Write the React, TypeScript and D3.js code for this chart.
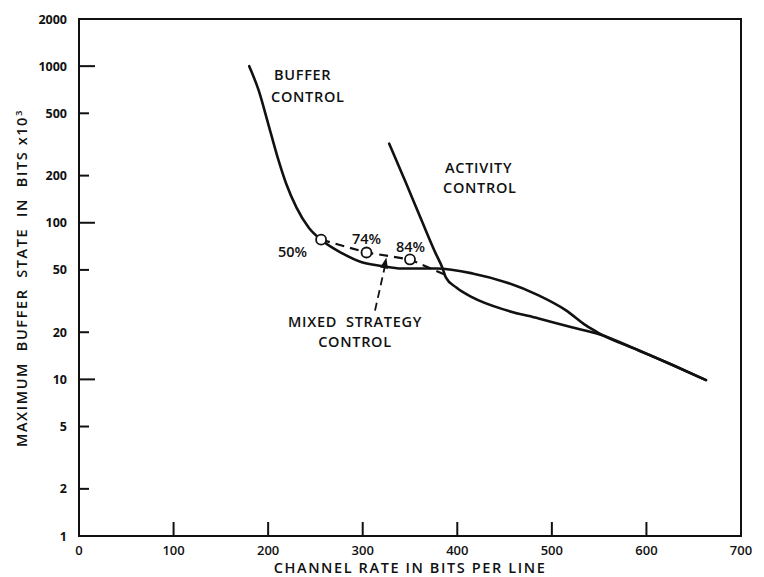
import React, { useEffect, useRef } from 'react';
import * as d3 from 'd3';

// channel rate (bits per line) vs max buffer state (bits x 10^3)
const xTicks = [0, 100, 200, 300, 400, 500, 600, 700];
const yTicks = [1, 2, 5, 10, 20, 50, 100, 200, 500, 1000, 2000];
const yMajor = [10, 100, 1000];

const bufferRate = [180, 190, 200, 211, 219, 230, 243, 257, 278, 299, 320, 341, 378, 416, 452, 486, 515, 536, 550, 592, 627, 663];
const bufferState = [1000, 700, 430, 250, 178, 125, 93, 77, 64, 56, 53, 51, 51, 47.5, 41.6, 34.4, 27.6, 22.1, 19.7, 15.3, 12.4, 9.9];

const activityRate = [328, 346, 363, 377, 384, 388, 399, 416, 452, 486, 521, 550, 592, 627, 663];
const activityState = [320, 178, 101, 64, 52, 44.7, 38.6, 33.4, 27.6, 24.5, 21.5, 19.4, 15.3, 12.4, 9.9];

const mixedRate = [256, 304, 350, 389];
const mixedState = [78, 64.6, 58.3, 46];
const mixedPct = ['50%', '74%', '84%'];

const W = 764;
const H = 577;
const FONT = '"Open Sans", "DejaVu Sans", sans-serif';

const App: React.FC = () => {
    const ref = useRef<SVGSVGElement>(null);

    useEffect(() => {
        const svg = d3.select(ref.current);
        svg.selectAll('*').remove();

        const x = d3.scaleLinear().domain([0, 700]).range([79, 741]);
        const y = d3.scaleLog().domain([1, 2000]).range([536, 19]);

        const g = svg.append('g')
            .attr('font-family', FONT)
            .attr('font-weight', 700)
            .attr('fill', '#111');

        // frame
        g.append('path')
            .attr('d', `M${x(0)},${y(2000)} H${x(700)} V${y(1)} H${x(0)} Z`)
            .attr('fill', 'none')
            .attr('stroke', '#111')
            .attr('stroke-width', 2);

        // y ticks
        g.selectAll('.ytick')
            .data(yTicks.filter(d => d !== 1 && d !== 2000))
            .enter()
            .append('line')
            .attr('x1', x(0))
            .attr('x2', d => x(0) + (yMajor.includes(d) ? 16 : 10))
            .attr('y1', d => y(d))
            .attr('y2', d => y(d))
            .attr('stroke', '#111')
            .attr('stroke-width', 2);

        g.selectAll('.ylab')
            .data(yTicks)
            .enter()
            .append('text')
            .attr('x', 67)
            .attr('y', d => y(d) + 4.5)
            .attr('text-anchor', 'end')
            .attr('font-size', 12.5)
            .text(d => String(d));

        // x ticks
        g.selectAll('.xtick')
            .data(xTicks.filter(d => d !== 0 && d !== 700))
            .enter()
            .append('line')
            .attr('x1', d => x(d))
            .attr('x2', d => x(d))
            .attr('y1', y(1))
            .attr('y2', y(1) - 14)
            .attr('stroke', '#111')
            .attr('stroke-width', 2);

        g.selectAll('.xlab')
            .data(xTicks)
            .enter()
            .append('text')
            .attr('x', d => x(d))
            .attr('y', 555)
            .attr('text-anchor', 'middle')
            .attr('font-size', 13)
            .attr('font-weight', 600)
            .text(d => String(d));

        // axis titles
        g.append('text')
            .attr('x', 410)
            .attr('y', 573)
            .attr('text-anchor', 'middle')
            .attr('font-size', 14.5)
            .attr('font-weight', 600)
            .attr('letter-spacing', 1.6)
            .text('CHANNEL RATE IN BITS PER LINE');

        const yt = g.append('text')
            .attr('transform', 'translate(27,278) rotate(-90)')
            .attr('text-anchor', 'middle')
            .attr('font-size', 14.5)
            .attr('font-weight', 600)
            .attr('letter-spacing', 1.6)
            .style('white-space', 'pre');
        yt.append('tspan').text('MAXIMUM  BUFFER  STATE  IN  BITS x10');
        yt.append('tspan').attr('dy', -5).attr('font-size', 9.5).text('3');

        const line = d3.line<[number, number]>()
            .x(d => x(d[0]))
            .y(d => y(d[1]))
            .curve(d3.curveMonotoneX);

        const curves = [
            bufferRate.map((r, i) => [r, bufferState[i]] as [number, number]),
            activityRate.map((r, i) => [r, activityState[i]] as [number, number]),
        ];

        g.selectAll('.curve')
            .data(curves)
            .enter()
            .append('path')
            .attr('d', d => line(d))
            .attr('fill', 'none')
            .attr('stroke', '#111')
            .attr('stroke-width', 2.6)
            .attr('stroke-linecap', 'round');

        // mixed strategy dashed line
        const mixed = mixedRate.map((r, i) => [r, mixedState[i]] as [number, number]);
        g.append('path')
            .attr('d', d3.line<[number, number]>().x(d => x(d[0])).y(d => y(d[1]))(mixed))
            .attr('fill', 'none')
            .attr('stroke', '#111')
            .attr('stroke-width', 2.2)
            .attr('stroke-dasharray', '9,6');

        g.selectAll('.mix')
            .data(mixed.slice(0, 3))
            .enter()
            .append('circle')
            .attr('cx', d => x(d[0]))
            .attr('cy', d => y(d[1]))
            .attr('r', 5)
            .attr('fill', '#fff')
            .attr('stroke', '#111')
            .attr('stroke-width', 1.8);

        // percent labels
        const pctPos = [[278, 257], [352, 244], [396, 252]];
        g.selectAll('.pct')
            .data(mixedPct)
            .enter()
            .append('text')
            .attr('x', (d, i) => pctPos[i][0])
            .attr('y', (d, i) => pctPos[i][1])
            .attr('font-size', 14.5)
            .attr('font-weight', 600)
            .text(d => d);

        // arrow for mixed strategy
        const tip: [number, number] = [x(325), y(60)];
        const tail: [number, number] = [x(313), y(27.5)];
        g.append('line')
            .attr('x1', tail[0]).attr('y1', tail[1])
            .attr('x2', tip[0] - 1.5).attr('y2', tip[1] + 9)
            .attr('stroke', '#111')
            .attr('stroke-width', 1.8)
            .attr('stroke-dasharray', '8,5');
        const ang = Math.atan2(tip[1] - tail[1], tip[0] - tail[0]);
        const ah = 11, aw = 4;
        const bx = tip[0] - ah * Math.cos(ang), by = tip[1] - ah * Math.sin(ang);
        g.append('path')
            .attr('d', `M${tip[0]},${tip[1]} L${bx + aw * Math.sin(ang)},${by - aw * Math.cos(ang)} L${bx - aw * Math.sin(ang)},${by + aw * Math.cos(ang)} Z`)
            .attr('fill', '#111');

        // curve labels
        const labels: [string, number, number, string][] = [
            ['BUFFER', 274, 80, 'start'],
            ['CONTROL', 271, 102, 'start'],
            ['ACTIVITY', 445, 173, 'start'],
            ['CONTROL', 443, 193, 'start'],
            ['MIXED  STRATEGY', 355, 327, 'middle'],
            ['CONTROL', 355, 347, 'middle'],
        ];
        g.selectAll('.lab')
            .data(labels)
            .enter()
            .append('text')
            .attr('x', d => d[1])
            .attr('y', d => d[2])
            .attr('text-anchor', d => d[3])
            .attr('font-size', 14.5)
            .attr('font-weight', 600)
            .attr('letter-spacing', 0.7)
            .style('white-space', 'pre')
            .text(d => d[0]);
    }, []);

    return (
        <svg ref={ref} width={W} height={H}
            style={{ position: 'absolute', left: 0, top: 0, background: '#fff' }} />
    );
};

export default App;
